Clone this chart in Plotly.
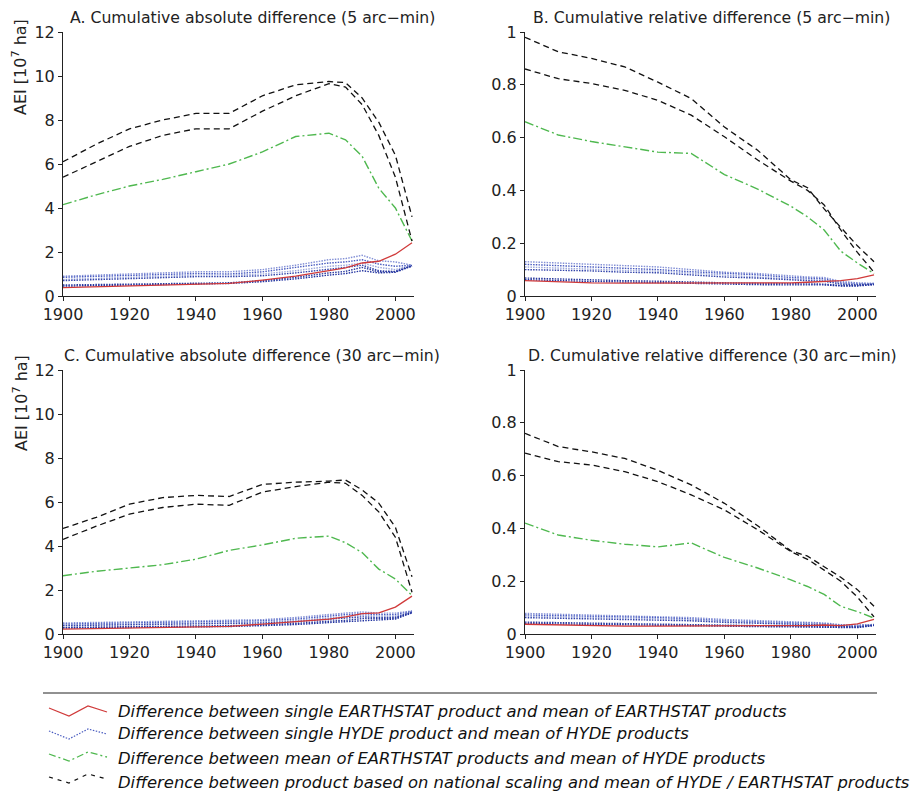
import plotly.graph_objects as go

YEARS = [1900, 1910, 1920, 1930, 1940, 1950, 1960, 1970, 1980, 1985, 1990, 1995, 2000, 2005]

# Panel A: cumulative absolute difference (5 arc-min), 10^7 ha
A_RED = [0.38, 0.42, 0.46, 0.5, 0.54, 0.57, 0.72, 0.9, 1.15, 1.28, 1.5, 1.58, 1.9, 2.42]
A_GREEN = [4.15, 4.6, 5.0, 5.3, 5.65, 6.0, 6.55, 7.25, 7.4, 7.1, 6.35, 4.9, 4.0, 2.5]
A_BLACK_1 = [6.1, 6.9, 7.6, 8.0, 8.3, 8.3, 9.1, 9.6, 9.75, 9.7, 9.0, 7.9, 6.4, 3.6]
A_BLACK_2 = [5.4, 6.1, 6.8, 7.3, 7.6, 7.6, 8.4, 9.1, 9.65, 9.5, 8.7, 7.3, 5.4, 2.5]
A_BLUE_1 = [0.9, 0.95, 1.0, 1.05, 1.1, 1.1, 1.2, 1.4, 1.65, 1.7, 1.85, 1.6, 1.55, 1.4]
A_BLUE_2 = [0.85, 0.9, 0.95, 1.0, 1.02, 1.0, 1.1, 1.3, 1.5, 1.55, 1.65, 1.45, 1.35, 1.4]
A_BLUE_3 = [0.75, 0.8, 0.85, 0.9, 0.95, 0.95, 1.0, 1.15, 1.35, 1.4, 1.5, 1.3, 1.2, 1.4]
A_BLUE_4 = [0.7, 0.75, 0.8, 0.85, 0.88, 0.88, 0.92, 1.05, 1.2, 1.3, 1.4, 1.15, 1.1, 1.38]
A_BLUE_5 = [0.5, 0.52, 0.55, 0.58, 0.6, 0.6, 0.7, 0.85, 1.05, 1.12, 1.3, 1.1, 1.12, 1.38]
A_BLUE_6 = [0.45, 0.47, 0.5, 0.52, 0.55, 0.57, 0.65, 0.78, 0.95, 1.02, 1.15, 1.05, 1.08, 1.36]

# Panel B: cumulative relative difference (5 arc-min)
B_RED = [0.058, 0.054, 0.05, 0.049, 0.049, 0.05, 0.05, 0.05, 0.05, 0.052, 0.056, 0.058, 0.066, 0.08]
B_GREEN = [0.66, 0.61, 0.585, 0.565, 0.545, 0.54, 0.46, 0.405, 0.34, 0.3, 0.25, 0.17, 0.125, 0.085]
B_BLACK_1 = [0.98, 0.925, 0.9, 0.868, 0.81, 0.748, 0.64, 0.552, 0.44, 0.41, 0.33, 0.262, 0.19, 0.13]
B_BLACK_2 = [0.86, 0.823, 0.805, 0.779, 0.741, 0.685, 0.603, 0.515, 0.435, 0.4, 0.345, 0.25, 0.165, 0.09]
B_BLUE_1 = [0.13, 0.125, 0.12, 0.115, 0.11, 0.1, 0.09, 0.085, 0.075, 0.072, 0.07, 0.055, 0.05, 0.048]
B_BLUE_2 = [0.12, 0.115, 0.11, 0.105, 0.1, 0.092, 0.085, 0.08, 0.07, 0.068, 0.065, 0.05, 0.047, 0.047]
B_BLUE_3 = [0.11, 0.105, 0.1, 0.097, 0.094, 0.086, 0.078, 0.072, 0.065, 0.062, 0.06, 0.048, 0.045, 0.046]
B_BLUE_4 = [0.1, 0.098, 0.095, 0.09, 0.088, 0.08, 0.072, 0.068, 0.06, 0.058, 0.056, 0.045, 0.043, 0.045]
B_BLUE_5 = [0.068, 0.064, 0.06, 0.058, 0.056, 0.052, 0.05, 0.048, 0.046, 0.045, 0.045, 0.04, 0.04, 0.044]
B_BLUE_6 = [0.062, 0.058, 0.055, 0.053, 0.05, 0.048, 0.045, 0.043, 0.042, 0.041, 0.042, 0.038, 0.038, 0.043]

# Panel C: cumulative absolute difference (30 arc-min), 10^7 ha
C_RED = [0.22, 0.24, 0.27, 0.3, 0.32, 0.35, 0.45, 0.56, 0.68, 0.78, 0.93, 0.96, 1.22, 1.72]
C_GREEN = [2.65, 2.85, 3.0, 3.15, 3.4, 3.8, 4.05, 4.35, 4.45, 4.15, 3.7, 2.95, 2.5, 1.75]
C_BLACK_1 = [4.8, 5.3, 5.9, 6.2, 6.3, 6.25, 6.8, 6.9, 6.95, 7.0, 6.55, 5.95, 4.85, 2.6]
C_BLACK_2 = [4.3, 4.9, 5.45, 5.75, 5.9, 5.85, 6.45, 6.7, 6.9, 6.85, 6.3, 5.55, 4.4, 1.9]
C_BLUE_1 = [0.5, 0.52, 0.55, 0.57, 0.6, 0.6, 0.65, 0.75, 0.9, 0.95, 1.0, 0.95, 0.95, 1.05]
C_BLUE_2 = [0.45, 0.47, 0.5, 0.52, 0.55, 0.55, 0.6, 0.68, 0.82, 0.88, 0.92, 0.88, 0.88, 1.03]
C_BLUE_3 = [0.4, 0.42, 0.45, 0.47, 0.5, 0.5, 0.55, 0.62, 0.75, 0.8, 0.85, 0.82, 0.82, 1.0]
C_BLUE_4 = [0.38, 0.4, 0.42, 0.44, 0.45, 0.46, 0.5, 0.56, 0.68, 0.72, 0.78, 0.75, 0.76, 1.0]
C_BLUE_5 = [0.3, 0.31, 0.33, 0.35, 0.37, 0.38, 0.42, 0.48, 0.58, 0.62, 0.7, 0.7, 0.72, 0.98]
C_BLUE_6 = [0.27, 0.28, 0.3, 0.32, 0.33, 0.34, 0.38, 0.43, 0.52, 0.56, 0.62, 0.65, 0.68, 0.96]

# Panel D: cumulative relative difference (30 arc-min)
D_RED = [0.037, 0.034, 0.031, 0.03, 0.03, 0.03, 0.03, 0.03, 0.031, 0.032, 0.034, 0.032, 0.038, 0.055]
D_GREEN = [0.42, 0.375, 0.355, 0.34, 0.33, 0.345, 0.29, 0.25, 0.205, 0.18, 0.15, 0.105, 0.085, 0.06]
D_BLACK_1 = [0.76, 0.71, 0.69, 0.665, 0.62, 0.565, 0.495, 0.41, 0.315, 0.295, 0.255, 0.215, 0.168, 0.105]
D_BLACK_2 = [0.685, 0.653, 0.64, 0.615, 0.577, 0.527, 0.47, 0.395, 0.312, 0.283, 0.242, 0.2, 0.14, 0.065]
D_BLUE_1 = [0.078, 0.075, 0.072, 0.07, 0.067, 0.062, 0.055, 0.05, 0.045, 0.043, 0.042, 0.035, 0.034, 0.036]
D_BLUE_2 = [0.072, 0.07, 0.067, 0.064, 0.062, 0.057, 0.05, 0.046, 0.042, 0.04, 0.039, 0.033, 0.032, 0.035]
D_BLUE_3 = [0.067, 0.065, 0.062, 0.06, 0.058, 0.053, 0.047, 0.043, 0.04, 0.038, 0.037, 0.031, 0.03, 0.035]
D_BLUE_4 = [0.062, 0.06, 0.058, 0.056, 0.054, 0.05, 0.044, 0.04, 0.037, 0.035, 0.034, 0.029, 0.028, 0.034]
D_BLUE_5 = [0.045, 0.043, 0.041, 0.04, 0.039, 0.036, 0.034, 0.032, 0.03, 0.029, 0.029, 0.026, 0.026, 0.033]
D_BLUE_6 = [0.04, 0.038, 0.036, 0.035, 0.034, 0.032, 0.03, 0.028, 0.027, 0.026, 0.026, 0.024, 0.024, 0.032]

TITLES = [
    "A. Cumulative absolute difference (5 arc\u2212min)",
    "B. Cumulative relative difference (5 arc\u2212min)",
    "C. Cumulative absolute difference (30 arc\u2212min)",
    "D. Cumulative relative difference (30 arc\u2212min)",
]
LEGEND_LABELS = [
    "Difference between single EARTHSTAT product and mean of EARTHSTAT products",
    "Difference between single HYDE product and mean of HYDE products",
    "Difference between mean of EARTHSTAT products and mean of HYDE products",
    "Difference between product based on national scaling and mean of HYDE / EARTHSTAT products",
]
ABS_TICKS = [0, 2, 4, 6, 8, 10, 12]
REL_TICKS = [0, 0.2, 0.4, 0.6, 0.8, 1]
REL_TICK_TEXT = ["0", "0.2", "0.4", "0.6", "0.8", "1"]
X_TICKS = [1900, 1920, 1940, 1960, 1980, 2000]

W, H = 914, 793
FONT = "DejaVu Sans, Liberation Sans, sans-serif"
TEXT = "#222222"
RED = "#d03a3a"
GREEN = "#4fb84f"
BLACK = "#111111"
BLUE_COLORS = ["#8390d6", "#4a5cc0", "#9aa6dc", "#3344aa", "#2a3a9e", "#2233a0"]

RED_STYLE = dict(color=RED, width=1.3)
GREEN_STYLE = dict(color=GREEN, width=1.4, dash="9px,3px,2px,3px")
BLACK_STYLE = dict(color=BLACK, width=1.3, dash="6px,4px")
BLUE_DASH = "1.5px,1.2px"


def px_x(p):
    return p / W


def px_y(p):
    return 1 - p / H


panels = [
    dict(red=A_RED, green=A_GREEN, black=[A_BLACK_1, A_BLACK_2],
         blue=[A_BLUE_1, A_BLUE_2, A_BLUE_3, A_BLUE_4, A_BLUE_5, A_BLUE_6]),
    dict(red=B_RED, green=B_GREEN, black=[B_BLACK_1, B_BLACK_2],
         blue=[B_BLUE_1, B_BLUE_2, B_BLUE_3, B_BLUE_4, B_BLUE_5, B_BLUE_6]),
    dict(red=C_RED, green=C_GREEN, black=[C_BLACK_1, C_BLACK_2],
         blue=[C_BLUE_1, C_BLUE_2, C_BLUE_3, C_BLUE_4, C_BLUE_5, C_BLUE_6]),
    dict(red=D_RED, green=D_GREEN, black=[D_BLACK_1, D_BLACK_2],
         blue=[D_BLUE_1, D_BLUE_2, D_BLUE_3, D_BLUE_4, D_BLUE_5, D_BLUE_6]),
]

# pixel geometry of each panel (left, right, top, bottom)
GEOM = [(63, 414, 32, 296), (525, 876, 32, 296), (63, 414, 370, 634), (525, 876, 370, 634)]
TITLE_POS = [(252, 18), (711, 18), (252, 355), (712, 355)]

fig = go.Figure()
layout = dict(
    width=W, height=H,
    margin=dict(l=0, r=0, t=0, b=0, autoexpand=False),
    paper_bgcolor="white", plot_bgcolor="white",
    showlegend=False,
    font=dict(family=FONT, size=16, color=TEXT),
)

annotations = []
shapes = []

for i, (p, g) in enumerate(zip(panels, GEOM)):
    n = i + 1
    xa = "x" if n == 1 else f"x{n}"
    ya = "y" if n == 1 else f"y{n}"
    for k, b in enumerate(p["blue"]):
        fig.add_trace(go.Scatter(x=YEARS, y=b, mode="lines", xaxis=xa, yaxis=ya,
                                 line=dict(color=BLUE_COLORS[k], width=1.4, dash=BLUE_DASH)))
    fig.add_trace(go.Scatter(x=YEARS, y=p["red"], mode="lines", xaxis=xa, yaxis=ya, line=RED_STYLE))
    fig.add_trace(go.Scatter(x=YEARS, y=p["green"], mode="lines", xaxis=xa, yaxis=ya, line=GREEN_STYLE))
    for bl in p["black"]:
        fig.add_trace(go.Scatter(x=YEARS, y=bl, mode="lines", xaxis=xa, yaxis=ya, line=BLACK_STYLE))

    left, right, top, bottom = g
    absolute = i in (0, 2)
    xkey = "xaxis" if n == 1 else f"xaxis{n}"
    ykey = "yaxis" if n == 1 else f"yaxis{n}"
    layout[xkey] = dict(
        domain=[px_x(left), px_x(right)], anchor=ya, range=[1900, 2005.6],
        tickvals=X_TICKS, showline=True, linecolor="#222", linewidth=1,
        ticks="outside", ticklen=4, tickcolor="#222", showgrid=False, zeroline=False,
        tickfont=dict(size=16), fixedrange=True,
    )
    ydict = dict(
        domain=[px_y(bottom), px_y(top)], anchor=xa,
        showline=True, linecolor="#222", linewidth=1,
        ticks="outside", ticklen=4, tickcolor="#222", showgrid=False, zeroline=False,
        tickfont=dict(size=16), fixedrange=True,
    )
    if absolute:
        ydict.update(range=[0, 12], tickvals=ABS_TICKS)
    else:
        ydict.update(range=[0, 1], tickvals=REL_TICKS, ticktext=REL_TICK_TEXT)
    layout[ykey] = ydict

    tx, ty = TITLE_POS[i]
    annotations.append(dict(text=TITLES[i], x=px_x(tx), y=px_y(ty), xref="paper", yref="paper",
                            xanchor="center", yanchor="middle", showarrow=False,
                            font=dict(size=15.7, color=TEXT)))

# y axis titles
for yc in (67, 403):
    annotations.append(dict(text="AEI [10<sup>7</sup> ha]", x=px_x(20), y=px_y(yc),
                            xref="paper", yref="paper", xanchor="center", yanchor="middle",
                            textangle=-90, showarrow=False, font=dict(size=16, color=TEXT)))

# legend block
shapes.append(dict(type="line", xref="paper", yref="paper",
                   x0=px_x(43), x1=px_x(877), y0=px_y(693), y1=px_y(693),
                   line=dict(color="#222", width=1)))
LEG_TEXT_Y = [711, 733.5, 758, 782]
LEG_ICON_Y = [[708, 716, 706, 712], [731, 739, 729, 734], [754, 761, 752, 757], [777, 783, 774, 779]]
LEG_ICON_X = [49, 69, 88, 107]
leg_styles = [
    dict(color=RED, width=1.2),
    dict(color="#4a5cc0", width=1.2, dash="1.5px,1.5px"),
    dict(color=GREEN, width=1.3, dash="7px,3px,2px,3px"),
    dict(color=BLACK, width=1.2, dash="4px,5px"),
]
for ty, iy, lab, st in zip(LEG_TEXT_Y, LEG_ICON_Y, LEGEND_LABELS, leg_styles):
    path = "M " + " L ".join(f"{px_x(a):.5f},{px_y(b):.5f}" for a, b in zip(LEG_ICON_X, iy))
    shapes.append(dict(type="path", xref="paper", yref="paper", path=path, line=st))
    annotations.append(dict(text=f"<i>{lab}</i>", x=px_x(116), y=px_y(ty),
                            xref="paper", yref="paper", xanchor="left", yanchor="middle",
                            showarrow=False, font=dict(size=16.4, color="#111")))

layout["annotations"] = annotations
layout["shapes"] = shapes
fig.update_layout(**layout)
fig.write_html("out.html", config={"displayModeBar": False},
               post_script="document.body.style.margin='0px';")
